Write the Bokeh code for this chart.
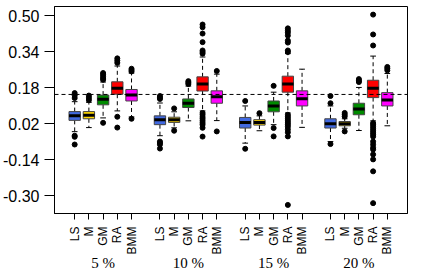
import math
from bokeh.plotting import figure
from bokeh.models import LinearAxis, FixedTicker, PrintfTickFormatter, Span, ColumnDataSource, Range1d
from bokeh.embed import file_html
from bokeh.resources import INLINE

groups = ["5 %", "10 %", "15 %", "20 %"]
methods = ["LS", "M", "GM", "RA", "BMM"]
method_colors = ["#4169E1", "#FFD700", "#008B00", "#FF0000", "#FF00FF"]
y_ticks = [-0.30, -0.14, 0.02, 0.18, 0.34, 0.50]
ref_level = 0.15

# box statistics, order: (5%: LS, M, GM, RA, BMM), (10%: ...), (15%: ...), (20%: ...)
lower_whisker = [-0.015, 0.003, 0.046, 0.077, 0.050,
                 -0.033, 0.002, 0.033, 0.077, 0.034,
                 -0.066, -0.011, 0.016, 0.068, 0.004,
                 -0.059, 0.000, -0.010, 0.033, 0.011]
q1 = [0.035, 0.042, 0.104, 0.151, 0.121,
      0.016, 0.026, 0.092, 0.165, 0.111,
      0.001, 0.014, 0.073, 0.160, 0.099,
      0.001, 0.011, 0.060, 0.136, 0.099]
median = [0.055, 0.058, 0.129, 0.178, 0.147,
          0.038, 0.038, 0.111, 0.196, 0.140,
          0.026, 0.026, 0.099, 0.196, 0.131,
          0.020, 0.020, 0.085, 0.177, 0.125]
q3 = [0.074, 0.074, 0.147, 0.206, 0.172,
      0.055, 0.049, 0.130, 0.228, 0.166,
      0.048, 0.038, 0.121, 0.231, 0.166,
      0.042, 0.030, 0.111, 0.213, 0.158]
upper_whisker = [0.118, 0.115, 0.205, 0.276, 0.245,
                 0.112, 0.073, 0.187, 0.316, 0.240,
                 0.099, 0.055, 0.160, 0.331, 0.262,
                 0.099, 0.042, 0.181, 0.320, 0.243]
outliers = [
    [0.134, 0.145, 0.156, -0.033, -0.038, -0.072],
    [0.125, 0.135, 0.145],
    [0.215, 0.222, 0.230, 0.238, 0.245, 0.024],
    [0.290, 0.300, 0.310, 0.051, 0.003],
    [0.252, 0.258, 0.264, 0.042],
    [0.130, 0.136, 0.143, -0.059, -0.065, -0.072, -0.090],
    [0.088, -0.011],
    [0.196, 0.202, 0.209],
    [0.331, 0.338, 0.345, 0.382, 0.420, 0.448, 0.460,
     0.068, 0.060, 0.050, 0.042, 0.033, 0.024, 0.016, 0.002, -0.037],
    [0.254, -0.014],
    [0.121, -0.091],
    [0.067],
    [0.188, 0.001, -0.036],
    [0.338, 0.345, 0.380, 0.389, 0.411, 0.424, 0.433, 0.443,
     0.060, 0.051, 0.042, 0.033, 0.024, 0.016, 0.007, -0.005, -0.018, -0.036, -0.340],
    [],
    [0.111, 0.143, -0.070],
    [0.052, 0.060, 0.068, -0.014],
    [0.205, 0.211, 0.218],
    [0.367, 0.416, 0.504,
     0.023, 0.016, 0.007, -0.002, -0.011, -0.020, -0.028, -0.037, -0.059, -0.072,
     -0.086, -0.094, -0.116, -0.138, -0.191, -0.332],
    [0.257, 0.265, 0.272],
]

# positions: groups of 5 boxes separated by one empty slot
pos = [g * 6 + m + 1 for g in range(len(groups)) for m in range(len(methods))]
names = [methods[m] for g in range(len(groups)) for m in range(len(methods))]
colors = [method_colors[m] for g in range(len(groups)) for m in range(len(methods))]
group_centers = [g * 6 + 3 for g in range(len(groups))]

box_w = 0.8
cap_w = 0.4

src = ColumnDataSource(dict(
    x=pos, lo=lower_whisker, q1=q1, med=median, q3=q3, hi=upper_whisker, color=colors,
    xl=[x - box_w / 2 for x in pos], xr=[x + box_w / 2 for x in pos],
    cl=[x - cap_w / 2 for x in pos], cr=[x + cap_w / 2 for x in pos],
))

p = figure(width=422, height=273, x_range=Range1d(-0.42, 24.42), y_range=Range1d(-0.378, 0.540),
           output_backend="svg", toolbar_location=None,
           min_border_top=6, min_border_right=15, min_border_left=52, min_border_bottom=60)
p.grid.visible = False
p.outline_line_color = "black"
p.outline_line_width = 1
p.background_fill_color = "white"
p.border_fill_color = "white"

# whiskers (dashed)
p.segment(x0="x", y0="q3", x1="x", y1="hi", source=src, line_color="black", line_width=1, line_dash="4 3")
p.segment(x0="x", y0="q1", x1="x", y1="lo", source=src, line_color="black", line_width=1, line_dash="4 3")
# staples
p.segment(x0="cl", y0="hi", x1="cr", y1="hi", source=src, line_color="black", line_width=1)
p.segment(x0="cl", y0="lo", x1="cr", y1="lo", source=src, line_color="black", line_width=1)
# boxes
p.quad(left="xl", right="xr", bottom="q1", top="q3", source=src, fill_color="color",
       line_color="#444444", line_width=1)
# medians
p.segment(x0="xl", y0="med", x1="xr", y1="med", source=src, line_color="black", line_width=3)

# outliers
ox, oy = [], []
for x, vals in zip(pos, outliers):
    for v in vals:
        ox.append(x)
        oy.append(v)
p.scatter(ox, oy, size=5, color="black")

p.add_layout(Span(location=ref_level, dimension="width", line_color="black",
                  line_width=1, line_dash="4 3"))

# y axis
p.yaxis.ticker = FixedTicker(ticks=y_ticks)
p.yaxis.formatter = PrintfTickFormatter(format="%.2f")
p.yaxis.major_label_text_font = "Liberation Sans"
p.yaxis.major_label_text_font_size = "16px"
p.yaxis.major_label_text_color = "black"
p.yaxis.major_tick_out = 10
p.yaxis.major_tick_in = 0
p.yaxis.minor_tick_line_color = None
p.yaxis.major_label_standoff = 5
p.yaxis.axis_line_color = "black"
p.yaxis.major_tick_line_color = "black"

# x axis with method names
xa = p.xaxis[0]
xa.ticker = FixedTicker(ticks=pos)
xa.major_label_overrides = {x: n for x, n in zip(pos, names)}
xa.major_label_orientation = math.pi / 2
xa.major_label_text_font = "Liberation Sans"
xa.major_label_text_font_size = "12px"
xa.major_label_text_color = "black"
xa.major_tick_out = 6
xa.major_tick_in = 0
xa.minor_tick_line_color = None
xa.major_label_standoff = 7
xa.axis_line_color = "black"
xa.major_tick_line_color = "black"

# group axis
ga = LinearAxis(ticker=FixedTicker(ticks=group_centers),
                major_label_overrides={x: g for x, g in zip(group_centers, groups)},
                axis_line_color=None, major_tick_line_color=None, minor_tick_line_color=None,
                major_tick_out=0, major_tick_in=0, major_label_standoff=-3,
                major_label_text_font="Liberation Serif", major_label_text_font_size="15px",
                major_label_text_color="black")
p.add_layout(ga, "below")

open("out.html", "w").write(file_html(p, INLINE))
